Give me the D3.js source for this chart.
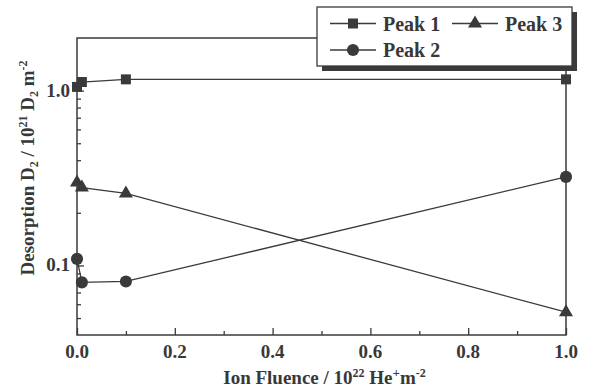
<!DOCTYPE html>
<html>
<head>
<meta charset="utf-8">
<script src="https://d3js.org/d3.v7.min.js"></script>
<style>
  body { margin: 0; background: #fff; }
  text { font-family: "Liberation Serif", "Times New Roman", serif; font-weight: bold; fill: #383838; }
</style>
</head>
<body>
<svg id="vis"></svg>
<script>
  // data
  var fluence = [0, 0.01, 0.1, 1.0]
  var peak1 = [1.05, 1.12, 1.16, 1.16]
  var peak2 = [0.109, 0.080, 0.081, 0.321]
  var peak3 = [0.298, 0.279, 0.258, 0.054]
  var xTicks = [0, 0.2, 0.4, 0.6, 0.8, 1.0]
  var xMinor = [0.1, 0.3, 0.5, 0.7, 0.9]
  var yTicks = [0.1, 1.0]
  var yMinor = [0.05, 0.06, 0.07, 0.08, 0.09, 0.2, 0.3, 0.4, 0.5, 0.6, 0.7, 0.8, 0.9]

  var W = 589, H = 390
  var m = {left: 77, right: 566, top: 38, bottom: 335}
  var ink = '#3a3a3a'

  var svg = d3.select('#vis').attr('width', W).attr('height', H)

  var x = d3.scaleLinear().domain([0, 1]).range([m.left, m.right])
  var y = d3.scaleLog().domain([0.04, 2]).range([m.bottom, m.top])

  // frame
  svg.append('rect')
    .attr('x', m.left).attr('y', m.top)
    .attr('width', m.right - m.left).attr('height', m.bottom - m.top)
    .attr('fill', 'none').attr('stroke', ink).attr('stroke-width', 1.5)

  // x axis, ticks pointing inward
  var gx = svg.append('g').attr('transform', 'translate(0,' + m.bottom + ')')
  gx.call(d3.axisTop(x).tickValues(xTicks).tickSize(7).tickFormat(''))
  gx.append('g').call(d3.axisTop(x).tickValues(xMinor).tickSize(4).tickFormat(''))
  gx.selectAll('.domain').remove()
  gx.selectAll('line').attr('stroke', ink).attr('stroke-width', 1.3)
  svg.selectAll('.xlab').data(xTicks).enter().append('text')
    .attr('x', d => x(d)).attr('y', m.bottom + 23)
    .attr('text-anchor', 'middle').attr('font-size', 19)
    .text(d => d3.format('.1f')(d))

  // y axis
  var gy = svg.append('g').attr('transform', 'translate(' + m.left + ',0)')
  gy.call(d3.axisRight(y).tickValues(yTicks).tickSize(7).tickFormat(''))
  gy.append('g').call(d3.axisRight(y).tickValues(yMinor).tickSize(4).tickFormat(''))
  gy.selectAll('.domain').remove()
  gy.selectAll('line').attr('stroke', ink).attr('stroke-width', 1.3)
  svg.selectAll('.ylab').data(yTicks).enter().append('text')
    .attr('x', m.left - 7).attr('y', d => y(d) + 6)
    .attr('text-anchor', 'end').attr('font-size', 19)
    .text(d => d3.format('.1f')(d))

  // axis titles
  var xt = svg.append('text').attr('x', (m.left + m.right) / 2 + 3).attr('y', 384)
    .attr('text-anchor', 'middle').attr('font-size', 19)
  xt.append('tspan').text('Ion Fluence / 10')
  xt.append('tspan').attr('font-size', 12).attr('dy', -7).text('22')
  xt.append('tspan').attr('dy', 7).text(' He')
  xt.append('tspan').attr('font-size', 13).attr('dy', -7).text('+')
  xt.append('tspan').attr('dy', 7).text('m')
  xt.append('tspan').attr('font-size', 12).attr('dy', -7).text('-2')

  var yt = svg.append('text')
    .attr('transform', 'translate(34,' + 168 + ') rotate(-90)')
    .attr('text-anchor', 'middle').attr('font-size', 19)
  yt.append('tspan').text('Desorption D')
  yt.append('tspan').attr('font-size', 12).attr('dy', 4).text('2')
  yt.append('tspan').attr('dy', -4).text(' / 10')
  yt.append('tspan').attr('font-size', 12).attr('dy', -7).text('21')
  yt.append('tspan').attr('dy', 7).text(' D')
  yt.append('tspan').attr('font-size', 12).attr('dy', 4).text('2')
  yt.append('tspan').attr('dy', -4).text(' m')
  yt.append('tspan').attr('font-size', 12).attr('dy', -7).text('-2')

  // series
  var series = [
    {name: 'Peak 1', values: peak1, symbol: d3.symbolSquare, size: 100},
    {name: 'Peak 2', values: peak2, symbol: d3.symbolCircle, size: 115},
    {name: 'Peak 3', values: peak3, symbol: d3.symbolTriangle, size: 85}
  ]
  var line = d3.line().x(d => x(d[0])).y(d => y(d[1]))

  series.forEach(function(s) {
    var pts = fluence.map((f, i) => [f, s.values[i]])
    svg.append('path').datum(pts)
      .attr('d', line).attr('fill', 'none')
      .attr('stroke', ink).attr('stroke-width', 1.3)
    svg.selectAll(null).data(pts).enter().append('path')
      .attr('transform', d => 'translate(' + x(d[0]) + ',' + y(d[1]) + ')')
      .attr('d', d3.symbol().type(s.symbol).size(s.size))
      .attr('fill', ink)
  })

  // legend with shadow
  var lg = svg.append('g')
  lg.append('rect').attr('x', 322).attr('y', 12).attr('width', 255).attr('height', 59).attr('fill', ink)
  lg.append('rect').attr('x', 317).attr('y', 7).attr('width', 255).attr('height', 59)
    .attr('fill', '#fff').attr('stroke', ink).attr('stroke-width', 1.3)

  var legendPos = [
    {s: series[0], x: 330, y: 23.5},
    {s: series[2], x: 452, y: 23.5},
    {s: series[1], x: 330, y: 50}
  ]
  legendPos.forEach(function(p) {
    lg.append('line').attr('x1', p.x).attr('x2', p.x + 46)
      .attr('y1', p.y).attr('y2', p.y).attr('stroke', ink).attr('stroke-width', 1.3)
    lg.append('path')
      .attr('transform', 'translate(' + (p.x + 23) + ',' + p.y + ')')
      .attr('d', d3.symbol().type(p.s.symbol).size(p.s.size))
      .attr('fill', ink)
    lg.append('text').attr('x', p.x + 53).attr('y', p.y + 7)
      .attr('font-size', 20).text(p.s.name)
  })
</script>
</body>
</html>
